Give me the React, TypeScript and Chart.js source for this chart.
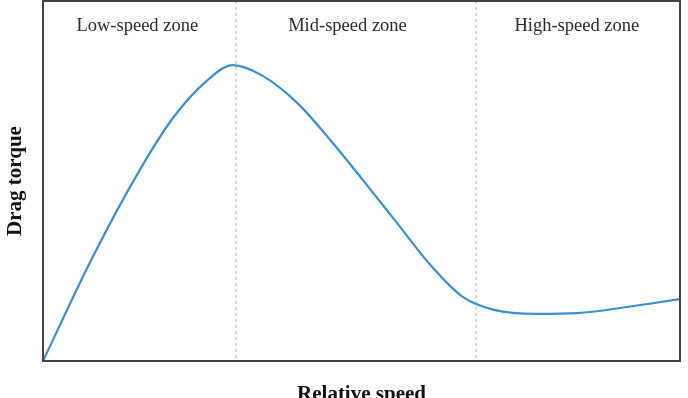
import React, { useEffect, useRef } from "react";
import { Chart, registerables } from "chart.js";

Chart.register(...registerables);

const speedValues = [0, 7.8, 15.2, 20.4, 25.7, 29.8, 34.5, 39.9, 45.1, 50.2, 55.6, 60.8, 65.9, 70.8, 77.6, 83.8, 91.7, 100];
const torqueValues = [0, 28.9, 53.1, 67.5, 77.8, 82.2, 79.2, 71.7, 61.4, 50.3, 38.3, 26.7, 17.8, 14.2, 13.1, 13.3, 15.0, 17.2];
const zoneBoundaries = [30.3, 68.0];
const zoneLabels = ["Low-speed zone", "Mid-speed zone", "High-speed zone"];
const zoneLabelPositions = [14.8, 47.8, 83.8];
const xAxisTitle = "Relative speed";
const yAxisTitle = "Drag torque";

const overlayPlugin = {
  id: "overlay",
  beforeDatasetsDraw(chart: any) {
    const { ctx, chartArea, scales } = chart;
    const xs = scales.x;
    ctx.save();
    ctx.strokeStyle = "#c9c9c9";
    ctx.lineWidth = 1.5;
    ctx.setLineDash([3, 3]);
    zoneBoundaries.forEach((b) => {
      const px = xs.getPixelForValue(b);
      ctx.beginPath();
      ctx.moveTo(px, chartArea.top);
      ctx.lineTo(px, chartArea.bottom);
      ctx.stroke();
    });
    ctx.setLineDash([]);
    ctx.fillStyle = "#2a2a2a";
    ctx.font = "18.5px 'Liberation Serif', 'DejaVu Serif', serif";
    ctx.textAlign = "center";
    ctx.textBaseline = "middle";
    zoneLabels.forEach((t, i) => {
      ctx.fillText(t, xs.getPixelForValue(zoneLabelPositions[i]), chartArea.top + 25);
    });
    ctx.restore();
  },
  afterDatasetsDraw(chart: any) {
    const { ctx, chartArea } = chart;
    ctx.save();
    ctx.strokeStyle = "#444444";
    ctx.lineWidth = 2;
    ctx.strokeRect(chartArea.left, chartArea.top, chartArea.right - chartArea.left, chartArea.bottom - chartArea.top);
    ctx.fillStyle = "#111111";
    ctx.font = "bold 21px 'Liberation Serif', 'DejaVu Serif', serif";
    ctx.textAlign = "center";
    ctx.textBaseline = "alphabetic";
    ctx.fillText(xAxisTitle, (chartArea.left + chartArea.right) / 2, 400);
    ctx.translate(21, (chartArea.top + chartArea.bottom) / 2);
    ctx.rotate(-Math.PI / 2);
    ctx.fillText(yAxisTitle, 0, 0);
    ctx.restore();
  },
};

export default function App() {
  const canvasRef = useRef<HTMLCanvasElement | null>(null);
  useEffect(() => {
    const canvas = canvasRef.current;
    if (!canvas) return;
    const chart = new Chart(canvas, {
      type: "line",
      data: {
        datasets: [
          {
            data: speedValues.map((x, i) => ({ x, y: torqueValues[i] })),
            borderColor: "#3b8ed3",
            borderWidth: 2.2,
            pointRadius: 0,
            cubicInterpolationMode: "monotone",
            fill: false,
          },
        ],
      },
      options: {
        responsive: false,
        animation: false,
        layout: { padding: { left: 43, right: 8, top: 1, bottom: 37 } },
        plugins: { legend: { display: false }, tooltip: { enabled: false } },
        scales: {
          x: { type: "linear", min: 0, max: 100, display: false },
          y: { type: "linear", min: 0, max: 100, display: false },
        },
      },
      plugins: [overlayPlugin],
    });
    return () => chart.destroy();
  }, []);
  return (
    <div style={{ position: "fixed", left: 0, top: 0, width: 688, height: 398, background: "#fff" }}>
      <canvas ref={canvasRef} width={688} height={398} style={{ width: 688, height: 398 }} />
    </div>
  );
}
